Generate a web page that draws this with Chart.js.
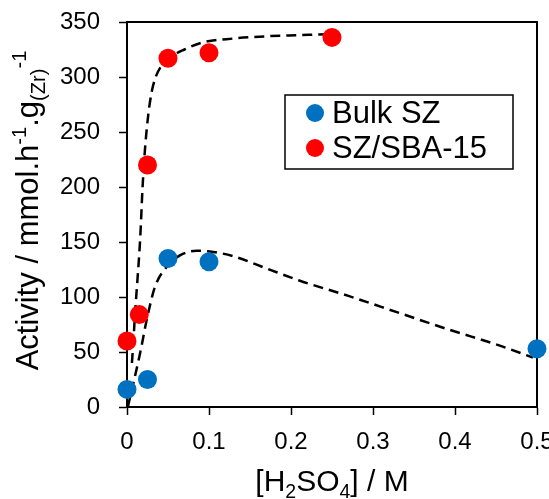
<!DOCTYPE html>
<html>
<head>
<meta charset="utf-8">
<script src="https://cdn.jsdelivr.net/npm/chart.js@4"></script>
<style>
  html, body { margin: 0; padding: 0; background: #fff; }
  #wrap { width: 549px; height: 499px; }
</style>
</head>
<body>
<div id="wrap"><canvas id="chart" width="549" height="499"></canvas></div>
<script>
// measured points
const bulkX = [0, 0.025, 0.05, 0.1, 0.5];
const bulkY = [16, 25, 135, 132, 53];
const sbaX = [0, 0.015, 0.025, 0.05, 0.1, 0.25];
const sbaY = [60, 84, 220, 317, 322, 336];

// dashed trend lines
const bulkFitX = [0.001, 0.016, 0.024, 0.034, 0.048, 0.065, 0.085, 0.105, 0.13, 0.17, 0.21, 0.27, 0.33, 0.394, 0.45, 0.495];
const bulkFitY = [0, 49, 79, 109, 127, 138, 142, 141, 137, 126, 115, 101, 86, 70, 57, 45];
const sbaFitX = [0.006, 0.008, 0.0098, 0.0118, 0.016, 0.019, 0.022, 0.026, 0.03, 0.035, 0.042, 0.055, 0.07, 0.09, 0.13, 0.17, 0.21, 0.25];
const sbaFitY = [40, 62, 85, 106, 152, 200, 235, 266, 286, 300, 310, 319, 325, 331, 335, 337, 338, 339];

const xTicks = [0, 0.1, 0.2, 0.3, 0.4, 0.5];
const yTicks = [0, 50, 100, 150, 200, 250, 300, 350];

const FONT = '"Liberation Sans", Arial, sans-serif';
const BLUE = '#0070C0';
const RED = '#FF0000';

const pts = (xs, ys) => xs.map((x, i) => ({ x: x, y: ys[i] }));

// draw text with sub/superscript runs
function richWidth(ctx, runs, size) {
  let w = 0;
  runs.forEach(r => {
    const s = r.s ? size * 0.65 : size;
    ctx.font = s + 'px ' + FONT;
    w += ctx.measureText(r.t).width;
  });
  return w;
}
function drawRich(ctx, runs, x, y, size) {
  let cx = x;
  runs.forEach(r => {
    const s = r.s ? size * 0.65 : size;
    ctx.font = s + 'px ' + FONT;
    let dy = 0;
    if (r.s === 'sub') dy = size * 0.22;
    if (r.s === 'sup') dy = -size * 0.38;
    ctx.fillText(r.t, cx, y + dy);
    cx += ctx.measureText(r.t).width;
  });
}

const xTitle = [{ t: '[H' }, { t: '2', s: 'sub' }, { t: 'SO' }, { t: '4', s: 'sub' }, { t: '] / M' }];
const yTitle = [{ t: 'Activity / mmol.h' }, { t: '-1', s: 'sup' }, { t: '.g' }, { t: '(Zr)', s: 'sub' }, { t: '-1', s: 'sup' }];

const frame = {
  id: 'frame',
  beforeDatasetsDraw(chart) {
    const a = chart.chartArea;
    const ctx = chart.ctx;
    ctx.save();
    ctx.strokeStyle = '#000';
    ctx.lineWidth = 2;
    ctx.strokeRect(a.left, a.top, a.right - a.left, a.bottom - a.top);
    ctx.restore();
  },
  afterDraw(chart) {
    const a = chart.chartArea;
    const ctx = chart.ctx;
    ctx.save();
    ctx.fillStyle = '#000';
    ctx.textBaseline = 'alphabetic';

    // x title
    const wx = richWidth(ctx, xTitle, 30);
    drawRich(ctx, xTitle, (a.left + a.right) / 2 - wx / 2, 491, 30);

    // y title
    const wy = richWidth(ctx, yTitle, 31);
    ctx.translate(38, (a.top + a.bottom) / 2 - 4);
    ctx.rotate(-Math.PI / 2);
    drawRich(ctx, yTitle, -wy / 2, 0, 31);
    ctx.restore();

    // legend
    ctx.save();
    const bx = 285, by = 95, bw = 228, bh = 74;
    ctx.fillStyle = '#fff';
    ctx.fillRect(bx, by, bw, bh);
    ctx.strokeStyle = '#000';
    ctx.lineWidth = 1.5;
    ctx.strokeRect(bx, by, bw, bh);
    const items = [
      { label: 'Bulk SZ', color: BLUE, y: 113 },
      { label: 'SZ/SBA-15', color: RED, y: 148 }
    ];
    ctx.font = '31px ' + FONT;
    ctx.textBaseline = 'middle';
    items.forEach(it => {
      ctx.fillStyle = it.color;
      ctx.beginPath();
      ctx.arc(315, it.y, 9, 0, Math.PI * 2);
      ctx.fill();
      ctx.fillStyle = '#000';
      ctx.fillText(it.label, 332, it.y + 1);
    });
    ctx.restore();
  }
};

new Chart(document.getElementById('chart'), {
  type: 'scatter',
  data: {
    datasets: [
      {
        label: 'Bulk SZ',
        data: pts(bulkX, bulkY),
        backgroundColor: BLUE,
        borderWidth: 0,
        pointRadius: 9.5,
        clip: false,
        order: 0
      },
      {
        label: 'SZ/SBA-15',
        data: pts(sbaX, sbaY),
        backgroundColor: RED,
        borderWidth: 0,
        pointRadius: 9.5,
        clip: false,
        order: 0
      },
      {
        label: 'Bulk fit',
        data: pts(bulkFitX, bulkFitY),
        showLine: true,
        borderColor: '#000',
        borderWidth: 2.5,
        borderDash: [10, 6],
        pointRadius: 0,
        cubicInterpolationMode: 'monotone',
        order: 1
      },
      {
        label: 'SBA fit',
        data: pts(sbaFitX, sbaFitY),
        showLine: true,
        borderColor: '#000',
        borderWidth: 2.5,
        borderDash: [10, 6],
        pointRadius: 0,
        cubicInterpolationMode: 'monotone',
        order: 1
      }
    ]
  },
  options: {
    responsive: false,
    animation: false,
    layout: { padding: { left: 0, top: 22, right: 12, bottom: 0 } },
    plugins: {
      legend: { display: false },
      tooltip: { enabled: false }
    },
    scales: {
      x: {
        type: 'linear',
        min: 0,
        max: 0.5,
        afterBuildTicks: s => { s.ticks = xTicks.map(v => ({ value: v })); },
        afterFit: s => { s.height = 92; s.paddingLeft = 0; s.paddingRight = 0; },
        ticks: {
          color: '#000',
          font: { family: FONT, size: 24 },
          padding: 13,
          maxRotation: 0,
          callback: v => String(v)
        },
        grid: {
          drawOnChartArea: false,
          tickLength: 8,
          tickColor: '#000',
          tickWidth: 1.5
        },
        border: { color: '#000', width: 2 }
      },
      y: {
        min: 0,
        max: 350,
        afterBuildTicks: s => { s.ticks = yTicks.map(v => ({ value: v })); },
        afterFit: s => { s.width = 127; s.paddingTop = 0; s.paddingBottom = 0; },
        ticks: {
          color: '#000',
          font: { family: FONT, size: 24 },
          padding: 19,
          callback: v => String(v)
        },
        grid: {
          drawOnChartArea: false,
          tickLength: 8,
          tickColor: '#000',
          tickWidth: 1.5
        },
        border: { color: '#000', width: 2 }
      }
    }
  },
  plugins: [frame]
});
</script>
</body>
</html>
